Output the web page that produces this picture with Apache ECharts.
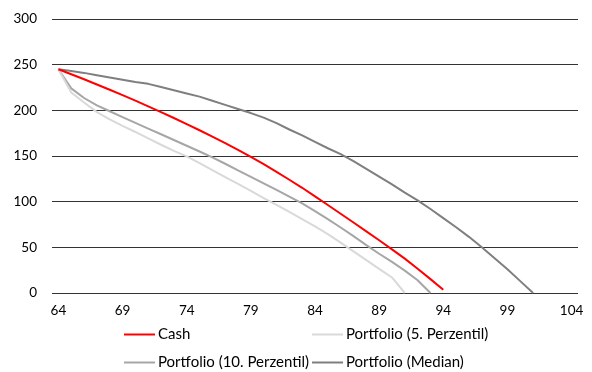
<!DOCTYPE html>
<html>
<head>
<meta charset="utf-8">
<script src="https://cdn.jsdelivr.net/npm/echarts@6/dist/echarts.min.js"></script>
<style>
  html, body { margin: 0; padding: 0; background: #ffffff; }
  #chart { width: 592px; height: 372px; }
</style>
</head>
<body>
<div id="chart"></div>
<script>
// Age (years) on the category axis
const ages = [];
for (let a = 64; a <= 104; a++) ages.push(String(a));

const seriesNames = ['Cash', 'Portfolio (5. Perzentil)', 'Portfolio (10. Perzentil)', 'Portfolio (Median)'];

// Remaining capital per age, 64 .. end of each path
const cash = [245, 239.5, 234.0, 228.3, 222.5, 216.6, 210.6, 204.4, 198.1, 191.6,
  185.0, 178.2, 171.2, 164.0, 156.6, 149.0, 141.0, 132.6, 124.0, 115.2,
  105.8, 96.3, 86.8, 77.2, 67.5, 57.7, 47.8, 37.6, 26.6, 15.2, 3.6];

const p5 = [245, 219.5, 208.5, 198, 190, 183, 176.3, 169.3, 162.3, 155.6,
  149.6, 142.2, 134.6, 127, 119.4, 111.8, 104.0, 96.5, 88.8, 80.9,
  72.9, 64.5, 55.2, 45.5, 36, 26.5, 17, 0];

const p10 = [245, 224, 213.5, 205.5, 199, 192.5, 186.3, 180, 173.8, 167.5,
  161.2, 154.9, 148.5, 141.5, 134.3, 127.2, 120.1, 113.0, 105.6, 98.2,
  89.7, 80.8, 71.7, 62.2, 52.4, 43, 34, 24.5, 14, 0];

const median = [245, 243, 241, 238.5, 236, 233.5, 231, 229, 225.5, 222,
  218.5, 215, 210.5, 206, 201.5, 197, 192, 186, 179, 172.5,
  165.5, 158.5, 152, 144.5, 136, 127.5, 119, 110, 101.5, 92,
  82, 72, 61.5, 50, 38, 26, 13, 0];

const yTicks = [0, 50, 100, 150, 200, 250, 300];

const colors = ['#ff0000', '#d9d9d9', '#a6a6a6', '#7f7f7f'];
const values = [cash, p5, p10, median];
const font = 'Lato, "Open Sans", sans-serif';

// Legend laid out as a 2 x 2 block: one legend component per entry
const legendSlots = [
  { left: 124, top: 327 },  // Cash
  { left: 312, top: 327 },  // 5. Perzentil
  { left: 124, top: 355 },  // 10. Perzentil
  { left: 312, top: 355 }   // Median
];

const chart = echarts.init(document.getElementById('chart'));
chart.setOption({
  animation: false,
  textStyle: { fontFamily: font },
  grid: { left: 52, right: 14, top: 19, bottom: 79 },
  xAxis: {
    type: 'category',
    data: ages,
    boundaryGap: true,
    axisLine: { show: false },
    axisTick: { show: false },
    axisLabel: { interval: 4, color: '#000', fontSize: 13.5, margin: 11, fontFamily: font }
  },
  yAxis: {
    type: 'value',
    min: yTicks[0],
    max: yTicks[yTicks.length - 1],
    interval: 50,
    axisLine: { show: false },
    axisTick: { show: false },
    axisLabel: { color: '#000', fontSize: 13.5, margin: 15, fontFamily: font },
    splitLine: { lineStyle: { color: '#333333', width: 1 } }
  },
  legend: seriesNames.map((name, i) => ({
    left: legendSlots[i].left,
    top: legendSlots[i].top,
    padding: 0,
    icon: 'rect',
    itemWidth: 31,
    itemHeight: 2,
    textStyle: { color: '#000', fontSize: 15, fontFamily: font, padding: [0, 0, 0, -2] },
    data: [name]
  })),
  series: seriesNames.map((name, i) => ({
    name: name,
    type: 'line',
    data: values[i],
    symbol: 'none',
    color: colors[i],
    lineStyle: { color: colors[i], width: 2 },
    z: 10 - i
  }))
});
</script>
</body>
</html>
